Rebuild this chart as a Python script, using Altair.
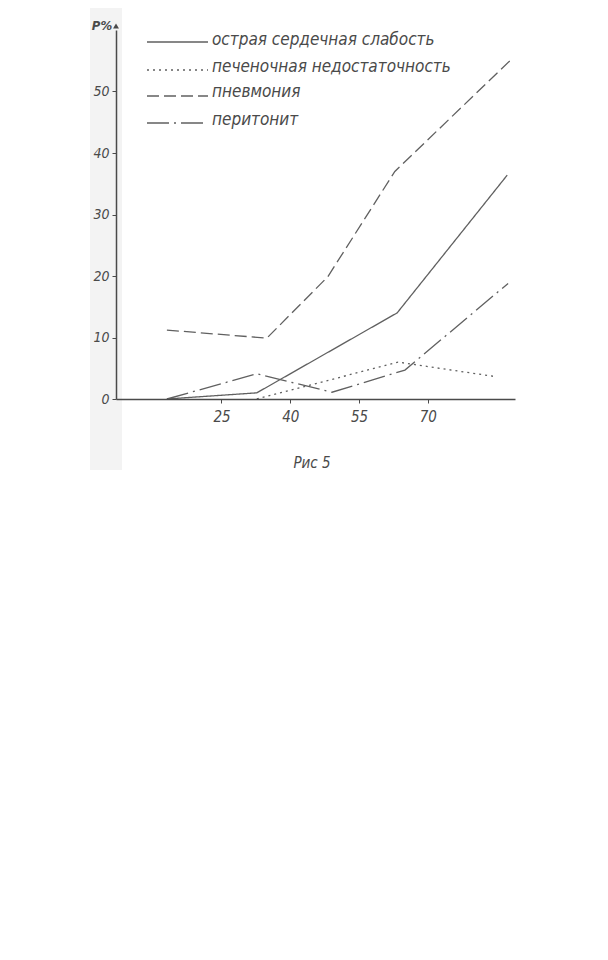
import altair as alt
import pandas as pd

series_names = ["острая сердечная слабость", "печеночная недостаточность", "пневмония", "перитонит"]

heart_x = [13.1, 32.7, 63.3, 87.3]
heart_y = [0, 1.0, 14.0, 36.4]

liver_x = [32.7, 63.5, 84.2]
liver_y = [0, 6.0, 3.7]

pneu_x = [13.1, 34.9, 48.2, 62.8, 87.9]
pneu_y = [11.2, 9.9, 19.9, 37.0, 55.0]

perit_x = [13.1, 32.7, 49.1, 65.0, 87.5]
perit_y = [0, 4.1, 1.1, 4.7, 18.8]

x_ticks = [25, 40, 55, 70]
y_ticks = [0, 10, 20, 30, 40, 50]
y_title = "P%"
caption = "Рис 5"

dashes = [[1, 0], [2, 4], [12, 5], [22, 5, 2, 5]]
FONT = "DejaVu Sans Condensed, Liberation Sans Narrow, DejaVu Sans"
INK = "#4a4a4a"
LINE = "#606060"

rows = []
for name, xs, ys in zip(series_names, [heart_x, liver_x, pneu_x, perit_x], [heart_y, liver_y, pneu_y, perit_y]):
    for i, (a, b) in enumerate(zip(xs, ys)):
        rows.append({"series": name, "age": a, "p": b, "i": i})
df = pd.DataFrame(rows)

# faint scan shadow strip at the left edge of the page
strip = alt.Chart(pd.DataFrame({"t": [""]})).mark_rect(color="#f3f3f3").encode(
    x=alt.value(-26), x2=alt.value(6), y=alt.value(-30), y2=alt.value(440))

lines = alt.Chart(df).mark_line(strokeWidth=1.3, color=LINE).encode(
    x=alt.X("age:Q", scale=alt.Scale(domain=[2, 89], nice=False, zero=False),
            axis=alt.Axis(values=x_ticks, title=None, labelFontSize=15, labelPadding=6, zindex=2)),
    y=alt.Y("p:Q", scale=alt.Scale(domain=[0, 60], nice=False),
            axis=alt.Axis(values=y_ticks, title=None, labelFontSize=14, labelPadding=3, zindex=2)),
    strokeDash=alt.StrokeDash("series:N", scale=alt.Scale(domain=series_names, range=dashes), legend=None),
    order="i:Q",
)

layers = [strip, lines]

leg_line_y = [12, 40, 66, 93]
leg_text_y = [15, 42, 67, 95]
for name, d, ly, ty in zip(series_names, dashes, leg_line_y, leg_text_y):
    ld = pd.DataFrame({"t": [name]})
    layers.append(alt.Chart(ld).mark_rule(strokeDash=d, strokeWidth=1.3, color=LINE).encode(
        x=alt.value(31), x2=alt.value(92), y=alt.value(ly)))
    layers.append(alt.Chart(ld).mark_text(align="left", baseline="alphabetic", font=FONT, fontStyle="italic",
                                          fontSize=17, color=INK).encode(
        x=alt.value(96), y=alt.value(ty), text="t:N"))

layers.append(alt.Chart(pd.DataFrame({"t": [y_title]})).mark_text(
    align="center", baseline="middle", font=FONT, fontStyle="italic", fontWeight="bold", fontSize=13, color=INK
).encode(x=alt.value(-14), y=alt.value(-4), text="t:N"))

layers.append(alt.Chart(pd.DataFrame({"t": [caption]})).mark_text(
    align="center", baseline="middle", font=FONT, fontStyle="italic", fontSize=15, color=INK
).encode(x=alt.value(196), y=alt.value(433), text="t:N"))

layers.append(alt.Chart(pd.DataFrame({"t": [""]})).mark_point(
    shape="triangle-up", filled=True, size=35, color=INK, opacity=1
).encode(x=alt.value(0), y=alt.value(-4)))

chart = alt.layer(*layers).properties(
    width=399, height=369,
    padding={"left": 108, "top": 22, "right": 20, "bottom": 80},
    autosize=alt.AutoSizeParams(type="none"),
).configure_view(stroke=None).configure_axis(
    grid=False, domainColor=INK, domainWidth=1.5, tickColor=INK, tickSize=4,
    labelFont=FONT, labelFontStyle="italic", labelColor=INK,
)

chart.save("out.html", embed_options={"renderer": "svg", "actions": False})
